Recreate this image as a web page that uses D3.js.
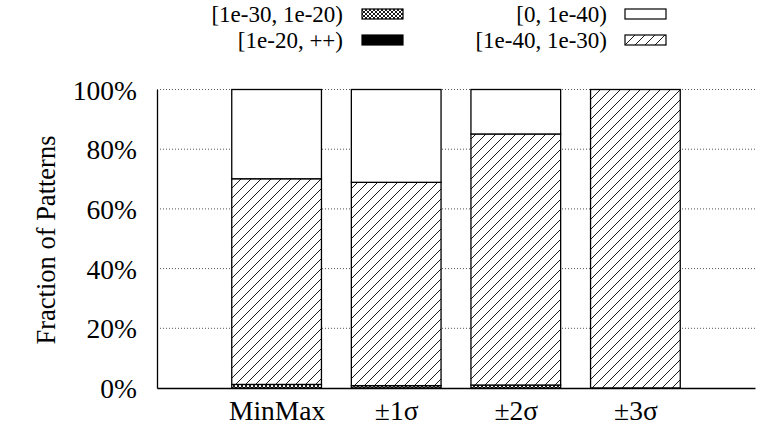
<!DOCTYPE html>
<html><head><meta charset="utf-8">
<script src="https://cdn.jsdelivr.net/npm/d3@7"></script>
<style>body{margin:0;background:#fff}svg{display:block}text{font-family:"Liberation Serif","Times New Roman",serif;fill:#000}</style>
</head><body><svg id="c" width="768" height="436"></svg>
<script>
const categories = ["MinMax", "\u00b11\u03c3", "\u00b12\u03c3", "\u00b13\u03c3"];
const seriesNames = ["[1e-20, ++)", "[1e-30, 1e-20)", "[1e-40, 1e-30)", "[0, 1e-40)"];
const valsBlack = [0, 0, 0, 0];
const valsCross = [1.2, 0.8, 1.0, 0];
const valsHatch = [68.9, 68.1, 84.1, 100];
const valsWhite = [29.9, 31.1, 14.9, 0];
const yTicks = [0, 20, 40, 60, 80, 100];

(function(){
const FS = "27.5px";
const svg = d3.select("#c");
const defs = svg.append("defs");
const hatch = defs.append("pattern").attr("id","hatch").attr("patternUnits","userSpaceOnUse")
  .attr("width",10).attr("height",10);
hatch.append("rect").attr("width",10).attr("height",10).attr("fill","#fff");
hatch.append("path").attr("d","M-1,11 L11,-1 M-6,6 L6,-6 M4,16 L16,4").attr("stroke","#000").attr("stroke-width",0.9);
const cross = defs.append("pattern").attr("id","cross").attr("patternUnits","userSpaceOnUse")
  .attr("width",4).attr("height",4);
cross.append("rect").attr("width",4).attr("height",4).attr("fill","#fff");
cross.append("path").attr("d","M0,4 L4,0 M0,0 L4,4").attr("stroke","#000").attr("stroke-width",0.9);

const fills = ["#000", "url(#cross)", "url(#hatch)", "#fff"];
const seriesVals = [valsBlack, valsCross, valsHatch, valsWhite];

const mLeft = 157, mRight = 755, mTop = 89.5, mBottom = 388;
const x = d3.scaleLinear().domain([-1, 4]).range([mLeft, mRight]);
const y = d3.scaleLinear().domain([0, 100]).range([mBottom, mTop]);
const bw = 0.75;

svg.append("g").selectAll("line").data(yTicks.filter(d=>d>0)).join("line")
  .attr("x1", mLeft).attr("x2", mRight).attr("y1", d=>y(d)).attr("y2", d=>y(d))
  .attr("stroke","#555").attr("stroke-width",1).attr("stroke-dasharray","1,2");

const rows = categories.map((c,i)=>{const o={cat:c, idx:i}; seriesNames.forEach((s,j)=>o[s]=seriesVals[j][i]); return o;});
const stack = d3.stack().keys(seriesNames)(rows);
stack.forEach((layer, j) => {
  svg.append("g").selectAll("rect").data(layer.filter(d=>d[1]-d[0]>0)).join("rect")
    .attr("x", d=>x(d.data.idx - bw/2)).attr("width", x(bw)-x(0))
    .attr("y", d=>y(d[1])).attr("height", d=>y(d[0])-y(d[1]))
    .attr("fill", fills[j]).attr("stroke","#000").attr("stroke-width",1.3);
});

const yAxis = d3.axisLeft(y).tickValues(yTicks).tickSize(0).tickPadding(20).tickFormat(d=>d+"%");
const gy = svg.append("g").attr("transform",`translate(${mLeft},0)`).call(yAxis);
gy.select(".domain").attr("stroke","#000").attr("stroke-width",1.3);
gy.selectAll("text").style("font-size",FS).attr("dy","0.35em");
const xAxis = d3.axisBottom(x).tickValues(categories.map((c,i)=>i)).tickSize(0).tickPadding(12).tickFormat(i=>categories[i]);
const gx = svg.append("g").attr("transform",`translate(0,${mBottom})`).call(xAxis);
gx.select(".domain").attr("stroke","#000").attr("stroke-width",1.3);
gx.selectAll("text").style("font-size",FS);

svg.append("text").attr("transform","translate(55,240) rotate(-90)").attr("text-anchor","middle")
  .style("font-size","26.5px").text("Fraction of Patterns");

const legendItems = [
  {name: seriesNames[1], fill: fills[1], col: 0, row: 0},
  {name: seriesNames[0], fill: fills[0], col: 0, row: 1},
  {name: seriesNames[3], fill: fills[3], col: 1, row: 0},
  {name: seriesNames[2], fill: fills[2], col: 1, row: 1}
];
const colTextX = [343, 607], colBoxX = [362, 625], rowY = [14, 40];
const lg = svg.append("g");
legendItems.forEach(it => {
  lg.append("text").attr("x", colTextX[it.col]).attr("y", rowY[it.row]).attr("dy","0.33em")
    .attr("text-anchor","end").style("font-size","23px").text(it.name);
  lg.append("rect").attr("x", colBoxX[it.col]).attr("y", rowY[it.row]-5).attr("width", 41).attr("height", 10)
    .attr("fill", it.fill).attr("stroke","#000").attr("stroke-width",1.2);
});
})();
</script></body></html>
